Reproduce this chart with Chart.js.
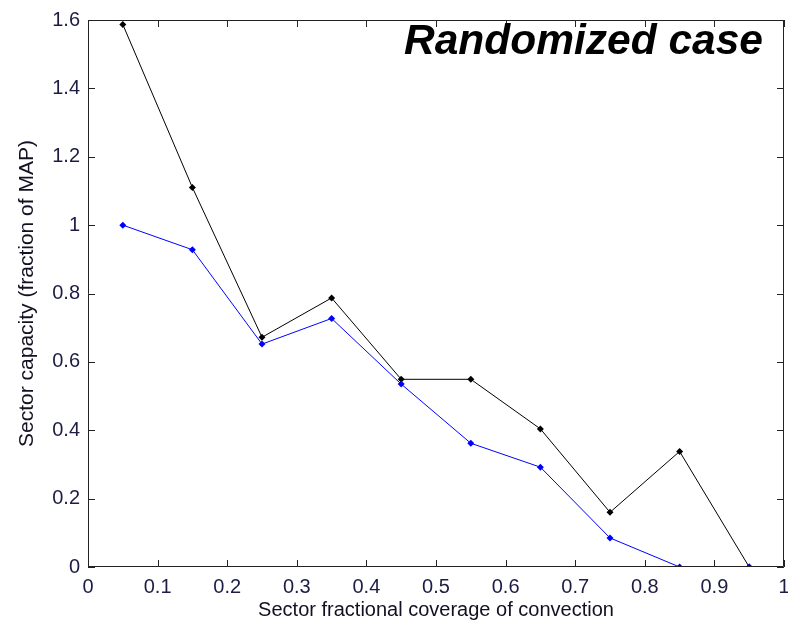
<!DOCTYPE html>
<html>
<head>
<meta charset="utf-8">
<script src="https://cdn.jsdelivr.net/npm/chart.js@4/dist/chart.umd.min.js"></script>
<style>
    html, body { margin: 0; padding: 0; background: #ffffff; }
    #wrap { width: 788px; height: 623px; position: relative; }
</style>
</head>
<body>
<div id="wrap"><canvas id="capacity-chart"></canvas></div>
<script>
// coverage of convection (x) and sector capacity for both runs
const coverage = [0.05, 0.15, 0.25, 0.35, 0.45, 0.55, 0.65, 0.75, 0.85, 0.95];
const capacityBlack = [1.587, 1.11, 0.672, 0.787, 0.549, 0.549, 0.404, 0.16, 0.338, 0];
const capacityBlue = [1.0, 0.928, 0.652, 0.727, 0.535, 0.362, 0.292, 0.085, 0, 0];
const xTicks = [0, 0.1, 0.2, 0.3, 0.4, 0.5, 0.6, 0.7, 0.8, 0.9, 1];
const yTicks = [0, 0.2, 0.4, 0.6, 0.8, 1, 1.2, 1.4, 1.6];

(() => {
    const canvas = document.getElementById("capacity-chart");
    const toPoints = (values) => values.map((v, i) => ({ x: coverage[i], y: v }));
    const tickColor = "#1c1c44";
    const tickFont = { family: "'Liberation Sans', Arial, sans-serif", size: 20 };

    // MATLAB style box with ticks pointing inward
    const boxPlugin = {
        id: "matlabBox",
        afterDatasetsDraw(chart) {
            const { ctx, chartArea: a, scales } = chart;
            const len = 7;
            ctx.save();
            ctx.strokeStyle = "#222222";
            ctx.lineWidth = 1;
            ctx.beginPath();
            ctx.rect(a.left + 0.5, a.top + 0.5, a.right - a.left - 1, a.bottom - a.top - 1);
            scales.x.ticks.forEach((t) => {
                const px = Math.round(scales.x.getPixelForValue(t.value)) + 0.5;
                ctx.moveTo(px, a.bottom);
                ctx.lineTo(px, a.bottom - len);
                ctx.moveTo(px, a.top);
                ctx.lineTo(px, a.top + len);
            });
            scales.y.ticks.forEach((t) => {
                const py = Math.round(scales.y.getPixelForValue(t.value)) + 0.5;
                ctx.moveTo(a.left, py);
                ctx.lineTo(a.left + len, py);
                ctx.moveTo(a.right, py);
                ctx.lineTo(a.right - len, py);
            });
            ctx.stroke();

            ctx.fillStyle = "#000000";
            ctx.font = "italic bold 42.5px 'Liberation Sans', Arial, sans-serif";
            ctx.textAlign = "right";
            ctx.textBaseline = "alphabetic";
            ctx.fillText("Randomized case", a.right - 21, 54);
            ctx.restore();
        },
    };

    new Chart(canvas, {
        type: "line",
        data: {
            datasets: [
                {
                    label: "blue",
                    data: toPoints(capacityBlue),
                    borderColor: "#0000ff",
                    backgroundColor: "#0000ff",
                    borderWidth: 1,
                    pointStyle: "rectRot",
                    pointRadius: 3.5,
                    pointBorderWidth: 0,
                },
                {
                    label: "black",
                    data: toPoints(capacityBlack),
                    borderColor: "#000000",
                    backgroundColor: "#000000",
                    borderWidth: 1,
                    pointStyle: "rectRot",
                    pointRadius: 3.5,
                    pointBorderWidth: 0,
                },
            ],
        },
        options: {
            responsive: true,
            maintainAspectRatio: false,
            animation: false,
            layout: { padding: { top: 20, right: 4, left: 0, bottom: 0 } },
            plugins: {
                legend: { display: false },
                tooltip: { enabled: false },
            },
            scales: {
                x: {
                    type: "linear",
                    min: 0,
                    max: 1,
                    afterBuildTicks: (scale) => { scale.ticks = xTicks.map((v) => ({ value: v })); },
                    afterFit: (scale) => {
                        scale.height = 56;
                        scale.paddingLeft = 0;
                        scale.paddingRight = 0;
                    },
                    grid: { display: false, tickLength: 0 },
                    border: { display: false },
                    ticks: {
                        color: tickColor,
                        font: tickFont,
                        padding: 8,
                        maxRotation: 0,
                        callback: (value) => String(value),
                    },
                    title: {
                        display: true,
                        text: "Sector fractional coverage of convection",
                        color: "#111122",
                        font: tickFont,
                        padding: { top: 0, bottom: 1 },
                    },
                },
                y: {
                    type: "linear",
                    min: 0,
                    max: 1.6,
                    afterBuildTicks: (scale) => { scale.ticks = yTicks.map((v) => ({ value: v })); },
                    afterFit: (scale) => { scale.width = 88; },
                    grid: { display: false, tickLength: 0 },
                    border: { display: false },
                    ticks: { color: tickColor, font: tickFont, padding: 8, callback: (value) => String(value) },
                    title: {
                        display: true,
                        text: "Sector capacity (fraction of MAP)",
                        color: "#111122",
                        font: { family: tickFont.family, size: 21 },
                        padding: { top: 15, bottom: 0 },
                    },
                },
            },
        },
        plugins: [boxPlugin],
    });
})();
</script>
</body>
</html>
